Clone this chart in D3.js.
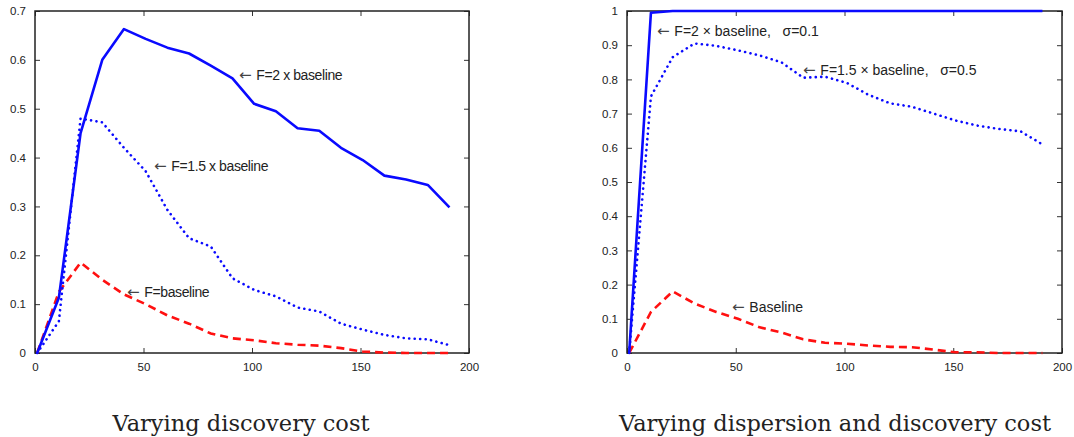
<!DOCTYPE html>
<html>
<head>
<meta charset="utf-8">
<script src="https://cdn.jsdelivr.net/npm/d3@7"></script>
<style>
  body { margin: 0; background: #fff; }
  svg { display: block; }
</style>
</head>
<body>
<script>
// x positions shared by all curves
var xs = [1, 11, 21, 31, 41, 51, 61, 71, 81, 91, 101, 111, 121, 131, 141, 151, 161, 171, 181, 191];

// left panel: varying discovery cost
var leftF2 = [0, 0.113, 0.45, 0.6, 0.663, 0.643, 0.625, 0.613, 0.588, 0.562, 0.51, 0.495, 0.46, 0.455, 0.42, 0.395, 0.363, 0.355, 0.344, 0.298];
var leftF15 = [0, 0.065, 0.48, 0.472, 0.42, 0.372, 0.293, 0.235, 0.218, 0.153, 0.129, 0.116, 0.093, 0.085, 0.06, 0.048, 0.037, 0.03, 0.028, 0.016];
var leftBase = [0, 0.125, 0.185, 0.15, 0.12, 0.1, 0.077, 0.06, 0.04, 0.03, 0.026, 0.02, 0.017, 0.015, 0.01, 0.003, 0.001, 0, 0, 0];

// right panel: varying dispersion and discovery cost
var rightF2 = [0, 0.995, 1, 1, 1, 1, 1, 1, 1, 1, 1, 1, 1, 1, 1, 1, 1, 1, 1, 1];
var rightF15 = [0, 0.75, 0.865, 0.905, 0.898, 0.885, 0.87, 0.85, 0.805, 0.808, 0.79, 0.755, 0.73, 0.72, 0.7, 0.68, 0.665, 0.655, 0.648, 0.61];
var rightBase = [0, 0.12, 0.18, 0.145, 0.12, 0.1, 0.075, 0.06, 0.04, 0.03, 0.027, 0.022, 0.018, 0.017, 0.01, 0.002, 0.002, 0, 0, 0];

var xTicks = [0, 50, 100, 150, 200];
var leftYTicks = [0, 0.1, 0.2, 0.3, 0.4, 0.5, 0.6, 0.7];
var rightYTicks = [0, 0.1, 0.2, 0.3, 0.4, 0.5, 0.6, 0.7, 0.8, 0.9, 1];

var svg = d3.select("body").append("svg")
    .attr("width", 1074)
    .attr("height", 437);

function panel(opt) {
    var x = d3.scaleLinear().domain([0, 200]).range([opt.left, opt.right]);
    var y = d3.scaleLinear().domain([0, opt.ymax]).range([353, 11]);
    var g = svg.append("g");

    // inward ticks on all four sides, matlab style
    g.append("g").attr("transform", "translate(0,353)")
        .call(d3.axisBottom(x).tickValues(xTicks).tickSize(-5).tickPadding(10).tickFormat(d3.format("d")));
    g.append("g").attr("transform", "translate(0,11)")
        .call(d3.axisTop(x).tickValues(xTicks).tickSize(-5).tickFormat(""));
    g.append("g").attr("transform", "translate(" + opt.left + ",0)")
        .call(d3.axisLeft(y).tickValues(opt.yTicks).tickSize(-5).tickPadding(9).tickFormat(function(d) { return d3.format("")(+d.toFixed(1)); }));
    g.append("g").attr("transform", "translate(" + opt.right + ",0)")
        .call(d3.axisRight(y).tickValues(opt.yTicks).tickSize(-5).tickFormat(""));
    g.selectAll(".domain").remove();
    g.selectAll(".tick line").attr("stroke", "#333").attr("stroke-width", 1);
    g.selectAll(".tick text").attr("fill", "#222").style("font-family", "Liberation Sans, Arial, sans-serif").style("font-size", "11.5px");

    g.append("rect")
        .attr("x", opt.left).attr("y", 11)
        .attr("width", opt.right - opt.left).attr("height", 342)
        .attr("fill", "none").attr("stroke", "#222").attr("stroke-width", 1.5);

    var line = d3.line()
        .x(function(d, i) { return x(xs[i]); })
        .y(function(d) { return y(d); });

    g.append("path").datum(opt.base)
        .attr("d", line).attr("fill", "none")
        .attr("stroke", "#ff1010").attr("stroke-width", 2.6)
        .attr("stroke-dasharray", "8,5");
    g.append("path").datum(opt.f15)
        .attr("d", line).attr("fill", "none")
        .attr("stroke", "#0a0aff").attr("stroke-width", 2.6)
        .attr("stroke-linecap", "round")
        .attr("stroke-dasharray", "0.1,5.4");
    g.append("path").datum(opt.f2)
        .attr("d", line).attr("fill", "none")
        .attr("stroke", "#0a0aff").attr("stroke-width", 2.6)
        .attr("stroke-linejoin", "round");

    // arrow labels
    opt.notes.forEach(function(n) {
        var t = g.append("text")
            .attr("x", n[0]).attr("y", n[1])
            .attr("fill", "#222")
            .style("white-space", "pre")
            .style("font-family", "Liberation Sans, Arial, sans-serif")
            .style("font-size", "14px");
        t.append("tspan")
            .style("font-family", "DejaVu Sans, sans-serif")
            .style("font-size", "15px")
            .attr("fill", "#444")
            .text("\u2190 ");
        t.append("tspan")
            .style("letter-spacing", n[3] || "0px")
            .text(n[2]);
    });

    svg.append("text")
        .attr("x", opt.titleX).attr("y", 431)
        .attr("text-anchor", "middle")
        .attr("fill", "#222")
        .style("font-family", "DejaVu Serif, Liberation Serif, serif")
        .style("font-size", "22.5px")
        .text(opt.title);
}

panel({
    left: 35, right: 469, ymax: 0.7, yTicks: leftYTicks,
    f2: leftF2, f15: leftF15, base: leftBase,
    notes: [
        [239, 80, "F=2 x baseline", "-0.4px"],
        [154, 171, "F=1.5 x baseline", "-0.4px"],
        [127, 297, "F=baseline", "-0.4px"]
    ],
    title: "Varying discovery cost", titleX: 241
});

panel({
    left: 627, right: 1062, ymax: 1, yTicks: rightYTicks,
    f2: rightF2, f15: rightF15, base: rightBase,
    notes: [
        [657, 36, "F=2 \u00d7 baseline,   \u03c3=0.1"],
        [803, 75, "F=1.5 \u00d7 baseline,   \u03c3=0.5"],
        [732, 312, "Baseline"]
    ],
    title: "Varying dispersion and discovery cost", titleX: 835
});
</script>
</body>
</html>
